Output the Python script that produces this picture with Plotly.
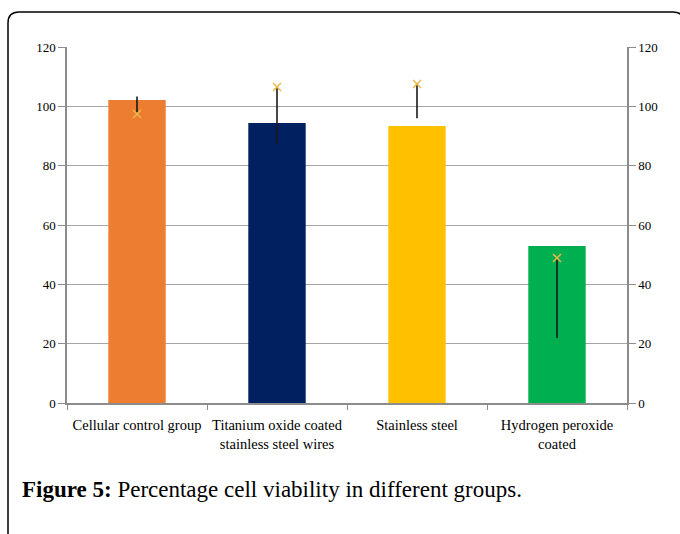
import plotly.graph_objects as go

categories = ["Cellular control group", "Titanium oxide coated<br>stainless steel wires",
              "Stainless steel", "Hydrogen peroxide<br>coated"]
viability = [102.1, 94.4, 93.4, 52.9]
bar_colors = ["#ED7D31", "#002060", "#FFC000", "#00B050"]
marker_vals = [97.4, 106.5, 107.5, 48.9]
err_low = [98.0, 87.3, 96.0, 21.9]
err_high = [103.3, 106.5, 107.5, 48.9]
yticks = [0, 20, 40, 60, 80, 100, 120]

W, H = 680, 534
L, R, T, B = 67, 53, 47, 131
pw, ph = W - L - R, H - T - B

def px(x):
    return (x - L) / pw

def py(y):
    return (H - B - y) / ph

fig = go.Figure()
fig.add_trace(go.Bar(x=categories, y=viability, marker=dict(color=bar_colors, line=dict(width=0)),
                     width=0.41, showlegend=False))
fig.add_trace(go.Scatter(
    x=categories, y=err_low, mode="markers", marker=dict(size=1, opacity=0),
    error_y=dict(type="data", symmetric=False,
                 array=[h - l for h, l in zip(err_high, err_low)],
                 arrayminus=[0] * len(err_low), color="#1a1a1a", thickness=1.6, width=0),
    showlegend=False))
fig.add_trace(go.Scatter(x=categories, y=marker_vals, mode="markers",
                         marker=dict(symbol="x-thin", size=8, line=dict(color="#E8B84A", width=1.5)),
                         showlegend=False))
# dummy for right axis
fig.add_trace(go.Scatter(x=categories, y=viability, yaxis="y2", mode="markers",
                         marker=dict(opacity=0), showlegend=False, hoverinfo="skip"))

font_fam = "Liberation Serif, Times New Roman, serif"
fig.update_layout(
    width=W, height=H, margin=dict(l=L, r=R, t=T, b=B),
    paper_bgcolor="white", plot_bgcolor="white",
    font=dict(family=font_fam, size=14, color="#000"),
    xaxis=dict(type="category", showline=True, linecolor="#8c8c8c", linewidth=1.5,
               ticks="outside", tickson="boundaries", ticklen=5, tickcolor="#8c8c8c",
               showgrid=False, tickfont=dict(size=14.5, family=font_fam), ticklabelstandoff=8),
    yaxis=dict(range=[0, 120], tickvals=yticks, showline=True, linecolor="#8c8c8c", linewidth=1.5,
               ticks="outside", ticklen=7, tickcolor="#8c8c8c", gridcolor="#a6a6a6",
               gridwidth=1.2, zeroline=False, tickfont=dict(size=13, family=font_fam)),
    yaxis2=dict(range=[0, 120], tickvals=yticks, overlaying="y", side="right", showline=True,
                linecolor="#8c8c8c", linewidth=1.5, ticks="outside", ticklen=7, tickcolor="#8c8c8c",
                showgrid=False, zeroline=False, tickfont=dict(size=13, family=font_fam)),
    bargap=0.59,
)

# rounded border (right edge lies just outside the picture)
x0, x1, y0, y1, r = 8, 684, 12, 600, 11
path = (f"M {px(x0)},{py(y1)} L {px(x0)},{py(y0 + r)} Q {px(x0)},{py(y0)} {px(x0 + r)},{py(y0)} "
        f"L {px(x1 - r)},{py(y0)} Q {px(x1)},{py(y0)} {px(x1)},{py(y0 + r)} L {px(x1)},{py(y1)}")
fig.add_shape(type="path", path=path, xref="paper", yref="paper",
              line=dict(color="#000", width=1.5))

fig.add_annotation(text="<b>Figure 5:</b> Percentage cell viability in different groups.",
                   xref="paper", yref="paper", x=px(20), y=py(490), xanchor="left", yanchor="middle",
                   showarrow=False, font=dict(family=font_fam, size=23, color="#000"))

fig.write_html("out.html", config={"displayModeBar": False},
               post_script="document.body.style.margin='0';document.body.style.overflow='hidden';")
